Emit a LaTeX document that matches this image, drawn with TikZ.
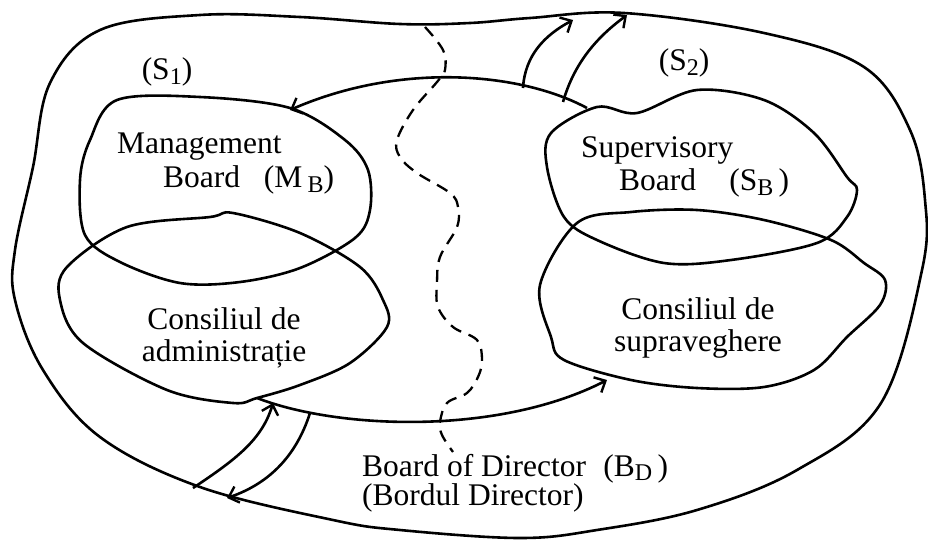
\documentclass[tikz,border=0pt]{standalone}
\usepackage{fontspec}
\setmainfont{Liberation Serif}
\usetikzlibrary{arrows.meta}
\newcommand{\sbt}[1]{\smash{\raisebox{-4.5pt}{\fontsize{24}{24}\selectfont #1}}}
\tikzset{
  blob/.style={line width=2.6pt},
  conn/.style={line width=2.6pt,-{Straight Barb[length=9pt,width=17pt,line width=2.4pt]}},
  sep/.style={line width=2.3pt,dash pattern=on 12pt off 8pt},
  lbl/.style={font=\fontsize{31.5}{36}\selectfont,inner sep=0pt,align=center},
}
\begin{document}
\begin{tikzpicture}[x=1pt,y=-1pt]
\useasboundingbox (0,0) rectangle (928,541);
% outer boundary
\draw[blob] plot[smooth cycle,tension=0.6] coordinates {(200,15) (300,17) (400,24) (470,23) (530,18) (624,13) (764,33) (864,67) (910,130) (925,200) (922,270) (881,403) (797,470) (697,510) (597,530) (520,538) (400,530) (333,520) (200,487) (100,437) (43,370) (15,300) (15,250) (33,167) (50,83) (100,30)};
% Management board
\draw[blob] plot[smooth cycle,tension=0.55] coordinates {(117,100) (200,97) (290,108) (345,140) (368,170) (370,210) (355,238) (300,268) (240,282) (180,283) (120,262) (85,235) (80,180) (90,140)};
% Consiliul de administratie
\draw[blob] plot[smooth cycle,tension=0.55] coordinates {(60,300) (67,267) (127,227) (210,217) (233,213) (300,233) (360,267) (383,300) (387,327) (350,363) (300,385) (257,398) (233,403) (167,390) (83,343)};
% Supervisory board
\draw[blob] plot[smooth cycle,tension=0.55] coordinates {(547,167) (551,133) (597,107) (637,113) (697,90) (764,100) (814,133) (847,177) (857,190) (847,217) (817,243) (731,260) (664,263) (597,240) (564,217)};
% Consiliul de supraveghere
\draw[blob] plot[smooth cycle,tension=0.55] coordinates {(540,285) (577,223) (631,212) (697,210) (764,220) (831,240) (864,263) (885,280) (880,305) (847,337) (814,370) (764,387) (697,388) (631,380) (564,360) (551,337)};
% dashed separator
\draw[sep] plot[smooth,tension=0.6] coordinates {(425,27) (443,50) (445,70) (437,82) (413,110) (397,140) (400,157) (417,173) (450,193) (458,207) (457,227) (440,257) (437,283) (438,307) (453,327) (477,340) (482,360) (478,377) (467,393) (447,403) (440,422) (442,435) (453,452)};
% named anchor points
\coordinate (sbtl) at (587,108);
\coordinate (mbtop) at (290,110);
\coordinate (cabot) at (257,398);
\coordinate (csbot) at (607,380);
\coordinate (a1s) at (523,88);  \coordinate (a1e) at (573,20);
\coordinate (a2s) at (563,102); \coordinate (a2e) at (627,15);
\coordinate (b1s) at (193,488); \coordinate (b1e) at (273,403);
\coordinate (b2s) at (310,413); \coordinate (b2e) at (227,498);
% connectors
\draw[conn] (sbtl) .. controls (520,72) and (400,62) .. (mbtop);
\draw[conn] (cabot) .. controls (340,430) and (500,435) .. (csbot);
\draw[conn] (a1s) .. controls (525,55) and (545,35) .. (a1e);
\draw[conn] (a2s) .. controls (575,60) and (600,35) .. (a2e);
\draw[conn] (b1s) .. controls (235,460) and (262,440) .. (b1e);
\draw[conn] (b2s) .. controls (295,460) and (265,485) .. (b2e);
% labels
\node[lbl] (s1) at (167,72) {(S\sbt{1})};
\node[lbl] (s2) at (684,63) {(S\sbt{2})};
\node[lbl,anchor=west] (mb1) at (117,147) {Management};
\node[lbl,anchor=west] (mb2) at (163,180) {Board\hspace{0.5em} (M\,\sbt{B})};
\node[lbl,anchor=west] (sb1) at (581,150) {Supervisory};
\node[lbl,anchor=west] (sb2) at (619,183) {Board\hspace{0.8em} (S\sbt{B}\,)};
\node[lbl] (ca) at (224,338) {Consiliul de\\[-4pt]administrație};
\node[lbl] (cs) at (698,328) {Consiliul de\\[-4pt]supraveghere};
\node[lbl,align=left,anchor=north west] (bd) at (362,454) {Board of Director\hspace{0.3em} (B\sbt{D}\,)\\[-7pt](Bordul Director)};
\end{tikzpicture}
\end{document}
